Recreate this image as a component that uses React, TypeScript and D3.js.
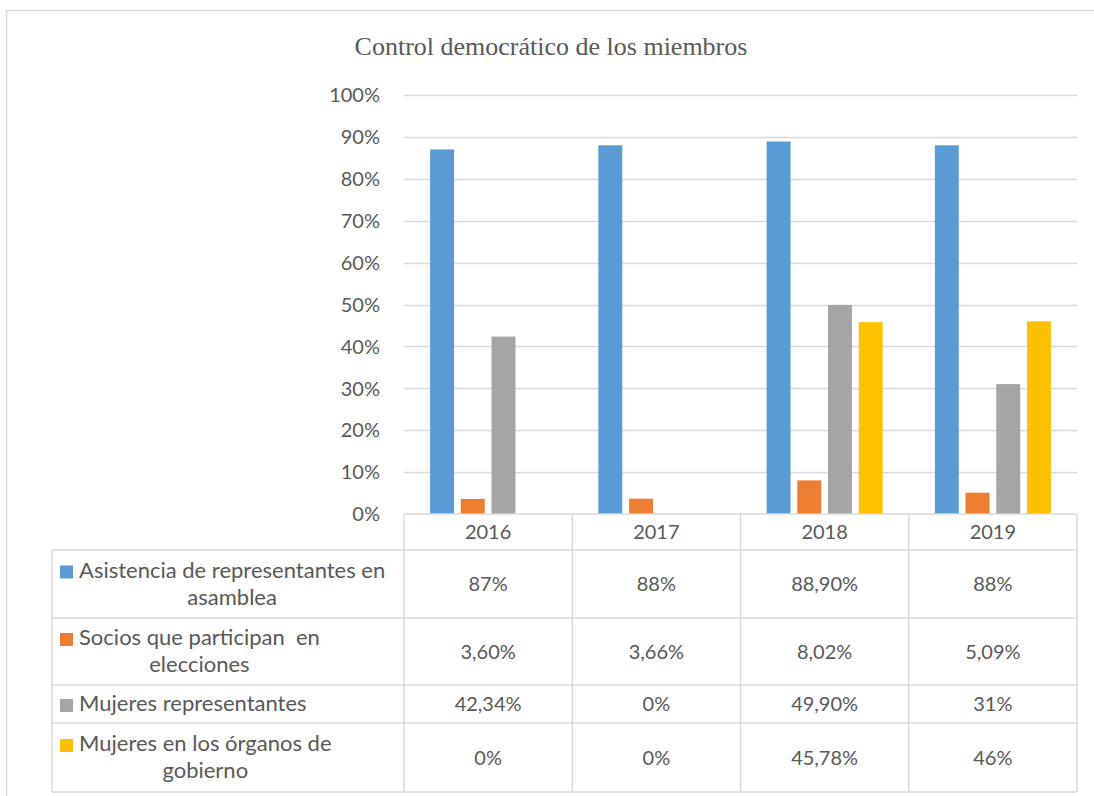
import React, { useEffect, useRef } from "react";
import * as d3 from "d3";

const W = 1094;
const H = 796;

const years = ["2016", "2017", "2018", "2019"];
const seriesNames = [
  ["Asistencia de representantes en", "asamblea"],
  ["Socios que participan  en", "elecciones"],
  ["Mujeres representantes"],
  ["Mujeres en los órganos de", "gobierno"],
];
const colors = ["#5B9BD5", "#ED7D31", "#A5A5A5", "#FFC000"];

const asistencia = [87, 88, 88.9, 88];
const socios = [3.6, 3.66, 8.02, 5.09];
const mujeresRep = [42.34, 0, 49.9, 31];
const mujeresOrg = [0, 0, 45.78, 46];

const asistenciaLbl = ["87%", "88%", "88,90%", "88%"];
const sociosLbl = ["3,60%", "3,66%", "8,02%", "5,09%"];
const mujeresRepLbl = ["42,34%", "0%", "49,90%", "31%"];
const mujeresOrgLbl = ["0%", "0%", "45,78%", "46%"];

const yTicks = [0, 10, 20, 30, 40, 50, 60, 70, 80, 90, 100];

const values = [asistencia, socios, mujeresRep, mujeresOrg];
const labels = [asistenciaLbl, sociosLbl, mujeresRepLbl, mujeresOrgLbl];

const TEXT = "#595959";
const GRID = "#D9D9D9";
const FONT = "Lato, 'Open Sans', sans-serif";

export default function App() {
  const ref = useRef<SVGSVGElement>(null);

  useEffect(() => {
    const svg = d3.select(ref.current);
    svg.selectAll("*").remove();

    // outer chart frame
    svg
      .append("rect")
      .attr("x", 6.5)
      .attr("y", 10.5)
      .attr("width", W + 10)
      .attr("height", H + 10)
      .attr("fill", "white")
      .attr("stroke", GRID)
      .attr("stroke-width", 1.5);

    svg
      .append("text")
      .attr("x", 551)
      .attr("y", 55)
      .attr("text-anchor", "middle")
      .attr("font-family", "'Liberation Serif', 'Times New Roman', serif")
      .attr("font-size", 26)
      .attr("fill", TEXT)
      .text("Control democrático de los miembros");

    const left = 404;
    const right = 1077;
    const x = d3.scaleBand<string>().domain(years).range([left, right]);
    const xi = d3
      .scaleBand<number>()
      .domain([0, 1, 2, 3])
      .range([0, x.bandwidth()])
      .paddingInner(0.22)
      .paddingOuter(0.85);
    const y = d3.scaleLinear().domain([0, 100]).range([514, 95]);

    const grid = svg.append("g");
    yTicks.forEach((t) => {
      if (t > 0) {
        grid
          .append("line")
          .attr("x1", left)
          .attr("x2", right)
          .attr("y1", Math.round(y(t)) + 0.5)
          .attr("y2", Math.round(y(t)) + 0.5)
          .attr("stroke", GRID)
          .attr("stroke-width", 1.5);
      }
      grid
        .append("text")
        .attr("x", 380)
        .attr("y", y(t))
        .attr("dy", "0.36em")
        .attr("text-anchor", "end")
        .attr("font-family", FONT)
        .attr("font-size", 20)
        .attr("fill", TEXT)
        .text(`${t}%`);
    });

    const bars = svg.append("g");
    values.forEach((vals, s) => {
      bars
        .selectAll(null)
        .data(vals)
        .enter()
        .append("rect")
        .attr("x", (_d, i) => (x(years[i]) as number) + (xi(s) as number))
        .attr("width", xi.bandwidth())
        .attr("y", (d) => y(d))
        .attr("height", (d) => y(0) - y(d))
        .attr("fill", colors[s]);
    });

    // data table
    const tbl = svg.append("g");
    const rowEdges = [514, 550, 618, 685, 723, 792];
    const legendLeft = 52;
    const stroke = (x1: number, y1: number, x2: number, y2: number) =>
      tbl
        .append("line")
        .attr("x1", x1)
        .attr("y1", y1)
        .attr("x2", x2)
        .attr("y2", y2)
        .attr("stroke", GRID)
        .attr("stroke-width", 1.5);

    stroke(left, rowEdges[0], right, rowEdges[0]);
    rowEdges.slice(1).forEach((ry) => stroke(legendLeft, ry, right, ry));
    stroke(legendLeft, rowEdges[1], legendLeft, rowEdges[5]);
    [...years.map((yr) => x(yr) as number), right].forEach((cx) =>
      stroke(cx, rowEdges[0], cx, rowEdges[5])
    );

    years.forEach((yr) => {
      tbl
        .append("text")
        .attr("x", (x(yr) as number) + x.bandwidth() / 2)
        .attr("y", (rowEdges[0] + rowEdges[1]) / 2)
        .attr("dy", "0.36em")
        .attr("text-anchor", "middle")
        .attr("font-family", FONT)
        .attr("font-size", 20)
        .attr("fill", TEXT)
        .text(yr);
    });

    seriesNames.forEach((lines, s) => {
      const top = rowEdges[s + 1];
      const bottom = rowEdges[s + 2];
      const mid = (top + bottom) / 2;
      const lineH = 27;
      const first = mid - ((lines.length - 1) * lineH) / 2 + 7;
      const textX = 79;
      tbl
        .append("rect")
        .attr("x", 60)
        .attr("y", first - 12)
        .attr("width", 13)
        .attr("height", 13)
        .attr("fill", colors[s]);
      const t1 = tbl
        .append("text")
        .attr("x", textX)
        .attr("y", first)
        .attr("font-family", FONT)
        .attr("font-size", 22)
        .attr("fill", TEXT)
        .style("white-space", "pre")
        .text(lines[0]);
      const w1 = (t1.node() as SVGTextElement).getComputedTextLength();
      lines.slice(1).forEach((ln, k) => {
        tbl
          .append("text")
          .attr("x", textX + w1 / 2)
          .attr("y", first + (k + 1) * lineH)
          .attr("text-anchor", "middle")
          .attr("font-family", FONT)
          .attr("font-size", 22)
          .attr("fill", TEXT)
          .text(ln);
      });

      labels[s].forEach((lb, i) => {
        tbl
          .append("text")
          .attr("x", (x(years[i]) as number) + x.bandwidth() / 2)
          .attr("y", mid)
          .attr("dy", "0.36em")
          .attr("text-anchor", "middle")
          .attr("font-family", FONT)
          .attr("font-size", 20)
          .attr("fill", TEXT)
          .text(lb);
      });
    });
  }, []);

  return (
    <svg
      ref={ref}
      width={W}
      height={H}
      style={{ position: "absolute", left: 0, top: 0, background: "white" }}
    />
  );
}
